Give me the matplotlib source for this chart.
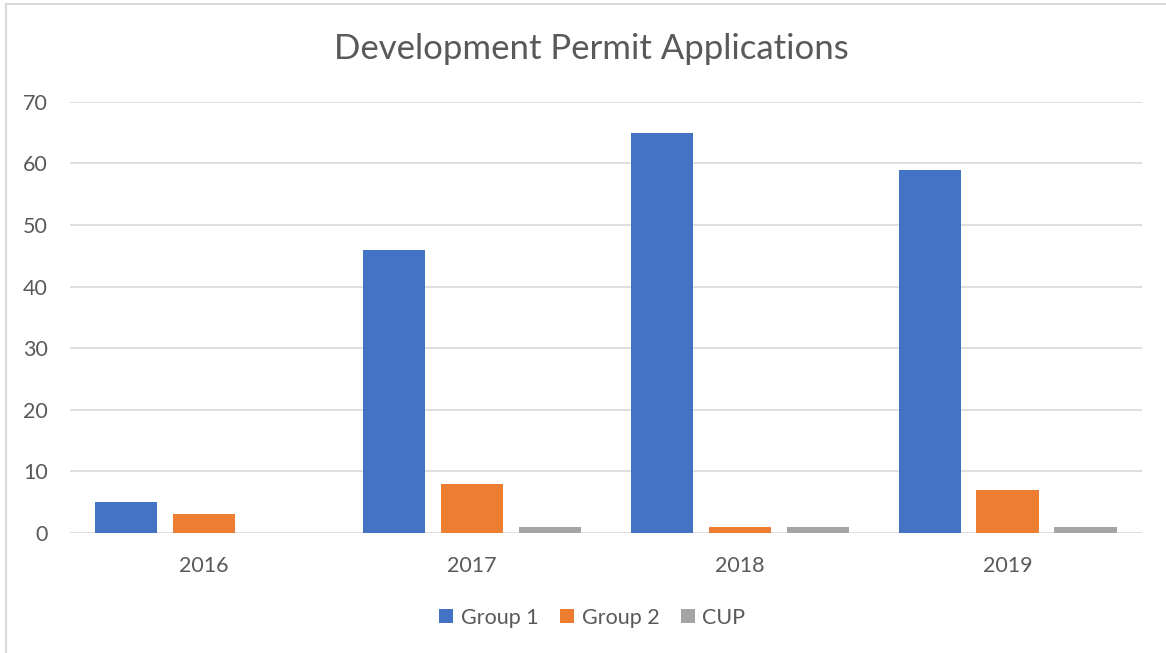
import matplotlib.pyplot as plt
import matplotlib.patches as mpatches
import numpy as np

plt.rcParams['font.family'] = ['Lato', 'DejaVu Sans']

years = ["2016", "2017", "2018", "2019"]
group1 = [5, 46, 65, 59]
group2 = [3, 8, 1, 7]
cup = [0, 1, 1, 1]

series = [("Group 1", group1, "#4472C4"),
          ("Group 2", group2, "#ED7D31"),
          ("CUP", cup, "#A5A5A5")]

text_color = "#595959"
grid_color = "#D9D9D9"

fig = plt.figure(figsize=(11.66, 6.53), dpi=100)
ax = fig.add_axes([0.060, 0.184, 0.919, 0.660])

# outer chart border
fig.patches.append(mpatches.Rectangle((0.005, -0.01), 1.2, 1.004, transform=fig.transFigure,
                                      fill=False, edgecolor="#D9D9D9", linewidth=1.5))

x = np.arange(len(years))
width = 0.232
step = 0.291
for i, (name, vals, color) in enumerate(series):
    ax.bar(x + (i - 1) * step, vals, width, color=color, label=name, zorder=3)

ax.set_xlim(-0.5, len(years) - 0.5)
ax.set_ylim(0, 70)
ax.set_yticks(range(0, 71, 10))
ax.set_xticks(x)
ax.set_xticklabels(years)
ax.grid(axis="y", color=grid_color, linewidth=1.2, zorder=0)
for s in ax.spines.values():
    s.set_visible(False)
ax.tick_params(length=0, colors=text_color, labelsize=15.5)
ax.tick_params(axis="x", pad=17)
ax.tick_params(axis="y", pad=16)

fig.text(0.507, 0.925, "Development Permit Applications", ha="center", va="center",
         fontsize=25, color=text_color)

leg = fig.legend(loc="center", bbox_to_anchor=(0.508, 0.054), ncol=3, frameon=False,
                 fontsize=15.5, handlelength=0.65, handleheight=0.65, columnspacing=1.0,
                 handletextpad=0.35)
for t in leg.get_texts():
    t.set_color(text_color)

fig.savefig("out.png", dpi=100, facecolor="white")
